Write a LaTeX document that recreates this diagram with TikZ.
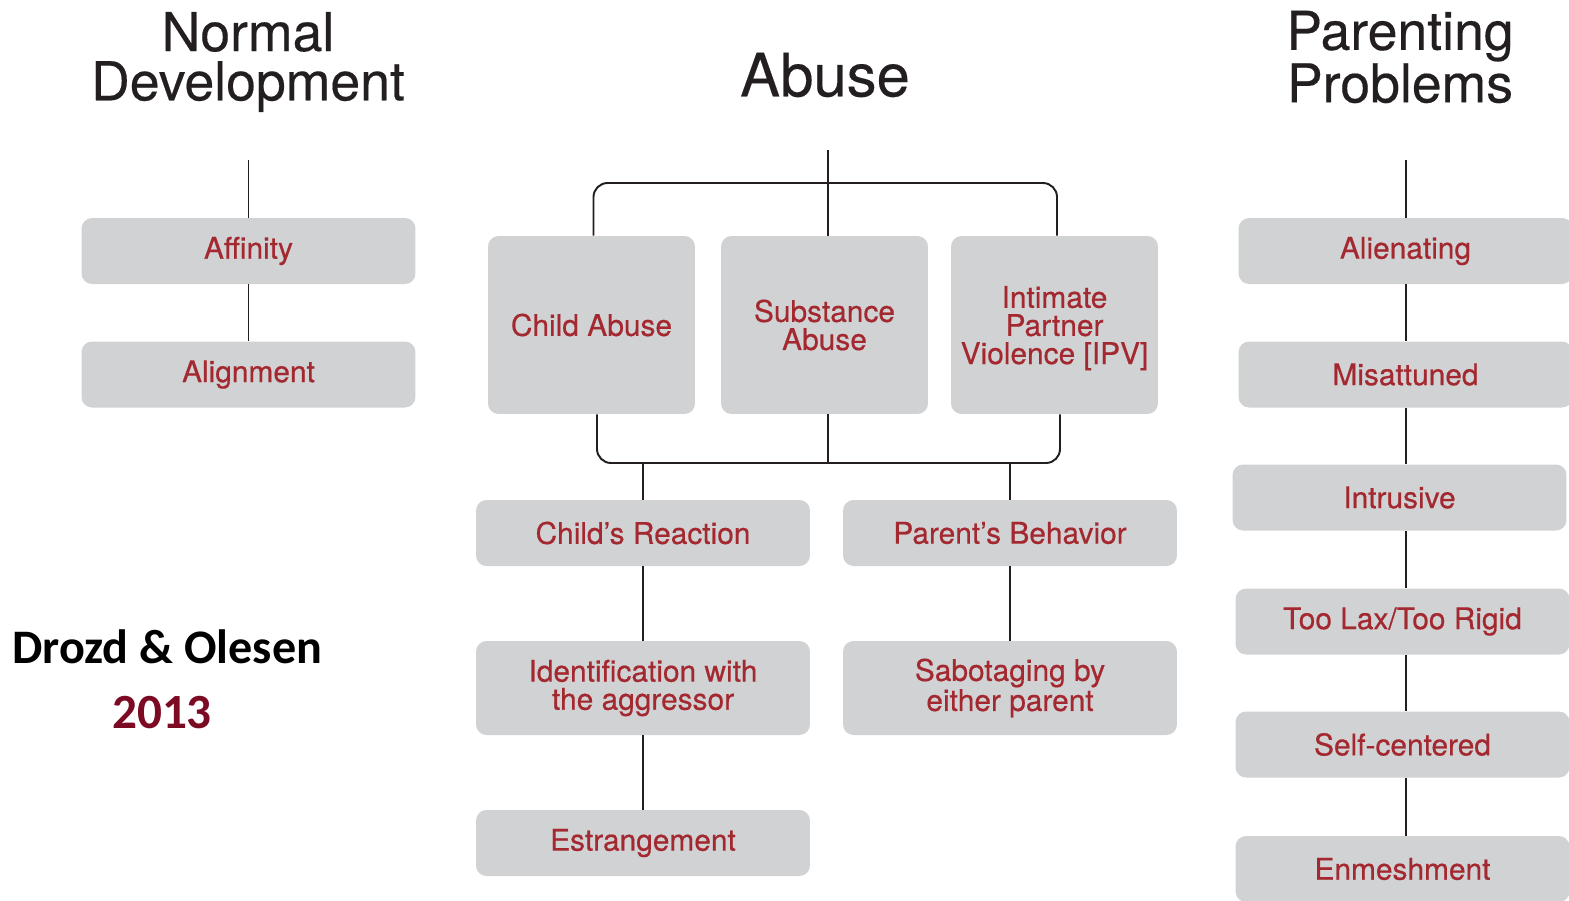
\documentclass[tikz,border=0pt]{standalone}
\usepackage{fontspec}
\setmainfont{TeX Gyre Heros}
\newfontfamily\boxfont[FakeBold=0.5]{TeX Gyre Heros}
\newfontfamily\headfont[FakeBold=0.3]{TeX Gyre Heros}
\newfontfamily\calibri{Carlito}
\usetikzlibrary{positioning}
\usetikzlibrary{calc}
\definecolor{boxgray}{HTML}{D1D2D4}
\definecolor{boxred}{HTML}{A3282F}
\definecolor{yearred}{HTML}{7D0A23}
\definecolor{ink}{HTML}{231F20}
\tikzset{
  box/.style={fill=boxgray, rounded corners=6pt, text=boxred, align=center,
    font=\boxfont\fontsize{17}{16}\selectfont, inner sep=2pt},
  widebox/.style={box, minimum width=6.68cm, minimum height=1.32cm},
  doublebox/.style={box, minimum width=6.68cm, minimum height=1.88cm},
  tallbox/.style={box, minimum width=4.14cm, minimum height=3.56cm},
  heading/.style={text=ink, align=center},
  link/.style={draw=ink, line width=1.1pt},
}

\begin{document}
\begin{tikzpicture}[x=0.02cm, y=-0.02cm]
				\clip (0,0) rectangle (1569,900);
				\fill[white] (0,0) rectangle (1569,900);
				% headings
				\node[heading, font=\headfont\fontsize{30.5}{28}\selectfont] (normal) at (248,62) {Normal\\Development};
				\node[heading, font=\headfont\fontsize{34}{34}\selectfont] (abuse) at (825,75) {Abuse};
				\node[heading, font=\headfont\fontsize{30.5}{28}\selectfont] (parenting) at (1400,57) {Parenting\\Problems};
				% source
				\node[anchor=base west, font=\calibri\bfseries\fontsize{27.4}{30}\selectfont, text=black] (drozd) at (6,663) {Drozd \& Olesen};
				\node[anchor=base, font=\calibri\bfseries\fontsize{28}{30}\selectfont, text=yearred] (year) at (162,728) {2013};
				
				% normal development
				\node[widebox] (affinity) at (248.5,251) {Affinity};
				\node[widebox] (alignment) at (248.5,374.5) {Alignment};
				\coordinate (ndtop) at (248.5,160);
				\draw[link] (ndtop) -- (affinity);
				\draw[link] (affinity) -- (alignment);
				
				% abuse
				\node[tallbox] (childab) at (591.5,325) {Child Abuse};
				\node[tallbox] (substab) at (824.5,325) {Substance\\Abuse};
				\node[tallbox, text depth=0pt] (ipv) at (1054.5,325) {Intimate\\Partner\\Violence [IPV]};
				\coordinate (abtop) at (828,150);
				\coordinate (brtop) at (828,183);
				\coordinate (brbot) at (828,463);
				\draw[link] (abtop) -- (abtop |- substab.north);
				\draw[link, rounded corners=8pt] ([xshift=0.04cm]childab.north) |- (brtop) -| ([xshift=0.05cm]ipv.north);
				\draw[link, rounded corners=8pt] ([xshift=0.11cm]childab.south) |- (brbot) -| ([xshift=0.11cm]ipv.south);
				\draw[link] (brbot |- substab.south) -- (brbot);
				
				\node[widebox] (reaction) at (643,533) {Child’s Reaction};
				\node[widebox] (behavior) at (1010,533) {Parent’s Behavior};
				\node[doublebox] (ident) at (643,688) {Identification with\\the aggressor};
				\node[doublebox] (sabot) at (1010,688) {Sabotaging by\\either parent};
				\node[widebox] (estrange) at (643,843) {Estrangement};
				\draw[link] (brbot -| reaction) -- (reaction);
				\draw[link] (brbot -| behavior) -- (behavior);
				\draw[link] (reaction) -- (ident);
				\draw[link] (ident) -- (estrange);
				\draw[link] (behavior) -- (sabot);
				
				% parenting problems
				\node[widebox] (alienat) at (1405.5,251) {Alienating};
				\node[widebox] (misatt) at (1405.5,374.5) {Misattuned};
				\node[widebox] (intrus) at (1399.5,497.5) {Intrusive};
				\node[widebox] (toolax) at (1402.5,621.5) {Too Lax/Too Rigid};
				\node[widebox] (selfc) at (1402.5,744.5) {Self-centered};
				\node[widebox] (enmesh) at (1402.5,869) {Enmeshment};
				\coordinate (pptop) at (1406,160);
				\draw[link] (pptop) -- (pptop |- alienat.north);
				\draw[link] (pptop |- alienat.south) -- (pptop |- misatt.north);
				\draw[link] (pptop |- misatt.south) -- (pptop |- intrus.north);
				\draw[link] (pptop |- intrus.south) -- (pptop |- toolax.north);
				\draw[link] (pptop |- toolax.south) -- (pptop |- selfc.north);
				\draw[link] (pptop |- selfc.south) -- (pptop |- enmesh.north);
			\end{tikzpicture}
\end{document}
